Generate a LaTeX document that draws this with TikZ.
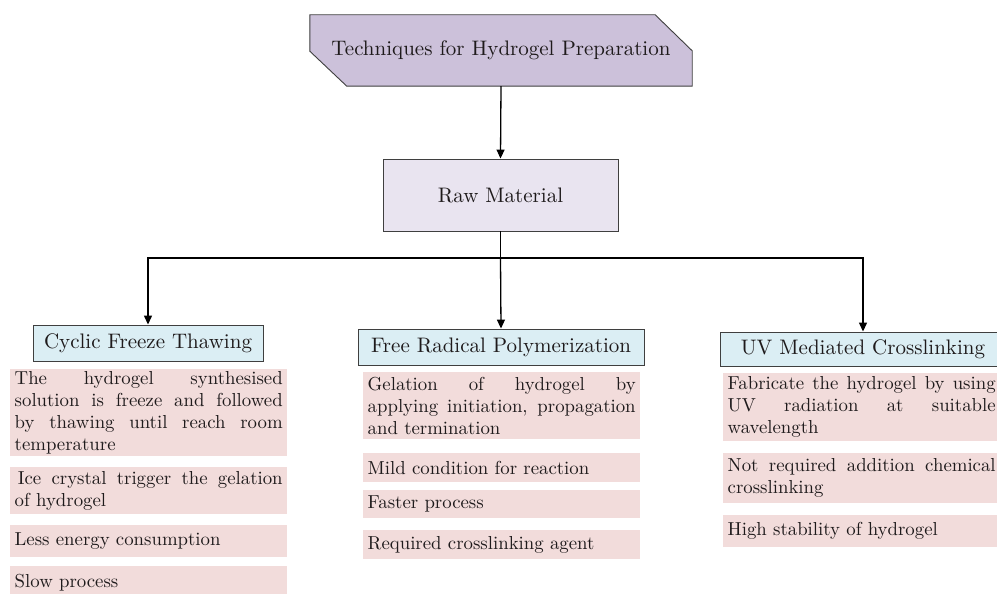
\documentclass[tikz,border=0pt]{standalone}
\usepackage{fontspec}
\setmainfont{lmroman10-regular.otf}
\usetikzlibrary{arrows.meta,calc}
\definecolor{titlefill}{HTML}{CCC1DA}
\definecolor{rawfill}{HTML}{E9E4F0}
\definecolor{headfill}{HTML}{DBEEF4}
\definecolor{pinkfill}{HTML}{F2DCDB}
\definecolor{edge}{HTML}{3F3F3F}
\definecolor{ink}{HTML}{1E1A1B}
\newcommand\pinkfont{\fontsize{18.8}{22}\selectfont\hyphenpenalty10000\exhyphenpenalty10000\relax}
\newcommand\headfont{\fontsize{21}{24}\selectfont}
\tikzset{
  arr/.style={draw=black, line width=1.3pt, -{Triangle[length=9pt,width=8pt]}},
  headbox/.style={draw=edge, line width=0.9pt, fill=headfill, text=ink,
    inner sep=0pt, minimum height=36pt, font=\headfont},
  pinkbox/.style={fill=pinkfill, text=ink, anchor=north west, text width=268pt,
    inner xsep=4.5pt, inner ysep=2pt, align=justify, font=\pinkfont},
}
\begin{document}
\begin{tikzpicture}[x=1pt,y=-1pt]
\useasboundingbox (0,0) rectangle (997,594);
\clip (0,0) rectangle (997,594);
\fill[white] (0,0) rectangle (997,594);

% title
\node[minimum width=382pt, minimum height=71pt, inner sep=0pt] (title) at (501,50.5) {};
\draw[draw=edge, line width=0.9pt, fill=titlefill]
  (title.north west) -- ([xshift=-37pt]title.north east)
  -- ([yshift=-36pt]title.north east) -- (title.south east)
  -- ([xshift=37pt]title.south west) -- ([yshift=35pt]title.south west) -- cycle;
\node[text=ink, font=\headfont] at (title.center) {Techniques for Hydrogel Preparation};

% raw material
\node[draw=edge, line width=0.9pt, fill=rawfill, text=ink, minimum width=235pt,
      minimum height=72pt, inner sep=0pt, font=\headfont]
      (raw) at (500.5,195) {Raw Material};

% headings
\node[headbox, minimum width=230pt] (cft) at (148,343) {Cyclic Freeze Thawing};
\node[headbox, minimum width=286pt] (frp) at (501,347) {Free Radical Polymerization};
\node[headbox, minimum width=286pt, minimum height=34pt] (uv) at (863,349) {UV Mediated Crosslinking};

% connectors
\coordinate (bus) at (500.5,258);
\draw[arr] (title.south) -- (raw.north);
\draw[arr] (raw.south) -- (bus) -| (cft.north);
\draw[arr] (bus) -| (uv.north);
\draw[arr] (bus) -- (frp.north);

% left column
\node[pinkbox, minimum height=87pt] (l1) at (10,369) {The hydrogel synthesised\linebreak solution is freeze and followed\linebreak by thawing until reach room\linebreak temperature};
\node[pinkbox, minimum height=47pt] (l2) at (10,467) {\,Ice crystal trigger the gelation\linebreak of hydrogel};
\node[pinkbox, minimum height=32pt] (l3) at (10,525) {Less energy consumption};
\node[pinkbox, minimum height=32pt] (l4) at (10,566) {Slow process};

% middle column
\node[pinkbox, minimum height=67pt] (m1) at (363,372) {Gelation of hydrogel by\linebreak applying initiation, propagation\linebreak and termination};
\node[pinkbox, minimum height=29pt] (m2) at (363,453) {Mild condition for reaction};
\node[pinkbox, minimum height=28pt] (m3) at (363,490) {Faster process};
\node[pinkbox, minimum height=29pt] (m4) at (363,530) {Required crosslinking agent};

% right column
\node[pinkbox, minimum height=68pt] (r1) at (723,373) {Fabricate the hydrogel by using\linebreak UV radiation at suitable\linebreak wavelength};
\node[pinkbox, minimum height=50pt] (r2) at (723,453) {Not required addition chemical\linebreak crosslinking};
\node[pinkbox, minimum height=32pt] (r3) at (723,515) {High stability of hydrogel};
\end{tikzpicture}
\end{document}
